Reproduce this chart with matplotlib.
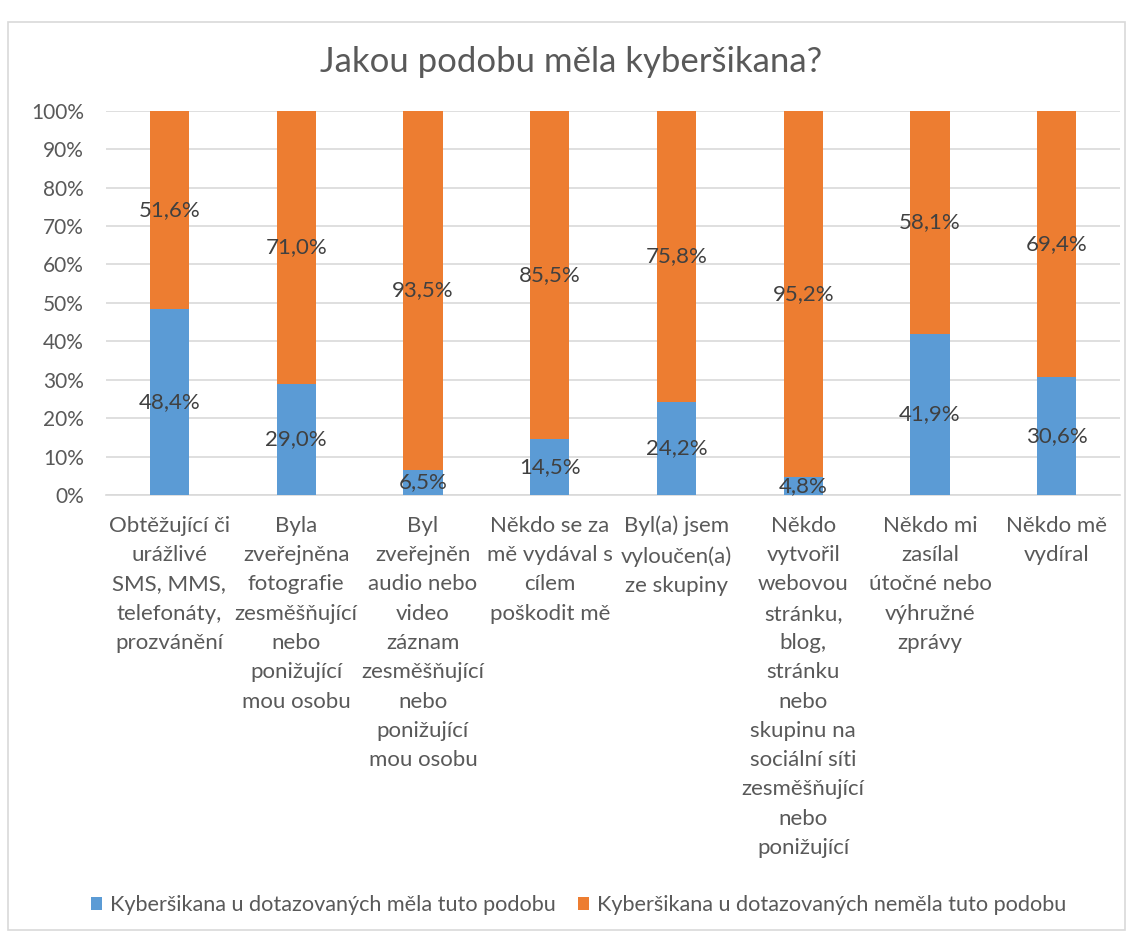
import numpy as np
import matplotlib.pyplot as plt
from matplotlib.patches import Rectangle

plt.rcParams['font.family'] = ['Lato', 'DejaVu Sans']

categories = [
    "Obtěžující či\nurážlivé\nSMS, MMS,\ntelefonáty,\nprozvánění",
    "Byla\nzveřejněna\nfotografie\nzesměšňující\nnebo\nponižující\nmou osobu",
    "Byl\nzveřejněn\naudio nebo\nvideo\nzáznam\nzesměšňující\nnebo\nponižující\nmou osobu",
    "Někdo se za\nmě vydával s\ncílem\npoškodit mě",
    "Byl(a) jsem\nvyloučen(a)\nze skupiny",
    "Někdo\nvytvořil\nwebovou\nstránku,\nblog,\nstránku\nnebo\nskupinu na\nsociální síti\nzesměšňující\nnebo\nponižující",
    "Někdo mi\nzasílal\nútočné nebo\nvýhružné\nzprávy",
    "Někdo mě\nvydíral",
]
mela = [48.4, 29.0, 6.5, 14.5, 24.2, 4.8, 41.9, 30.6]
nemela = [51.6, 71.0, 93.5, 85.5, 75.8, 95.2, 58.1, 69.4]
series_names = ["Kyberšikana u dotazovaných měla tuto podobu",
                "Kyberšikana u dotazovaných neměla tuto podobu"]
title = "Jakou podobu měla kyberšikana?"

blue = "#5B9BD5"
orange = "#ED7D31"
txt = "#595959"
lbl = "#404040"

fig = plt.figure(figsize=(11.28, 9.35), dpi=100)
fig.patches.append(Rectangle((0.007, 0.005), 0.99, 0.971, transform=fig.transFigure,
                             fill=False, edgecolor="#D9D9D9", linewidth=1.2))
ax = fig.add_axes([0.094, 0.4706, 0.899, 0.411])

x = np.arange(len(categories))
w = 0.31
b1 = ax.bar(x, mela, w, color=blue, label=series_names[0], zorder=3)
b2 = ax.bar(x, nemela, w, bottom=mela, color=orange, label=series_names[1], zorder=3)

for i in range(len(x)):
    ax.text(x[i], mela[i] / 2, f"{mela[i]:.1f}%".replace(".", ","), ha="center", va="center",
            fontsize=16, color=lbl, zorder=4)
    ax.text(x[i], mela[i] + nemela[i] / 2, f"{nemela[i]:.1f}%".replace(".", ","), ha="center",
            va="center", fontsize=16, color=lbl, zorder=4)

ax.set_xlim(-0.5, len(x) - 0.5)
ax.set_ylim(0, 100)
ax.set_yticks(np.arange(0, 101, 10))
ax.set_yticklabels([f"{v}%" for v in range(0, 101, 10)])
ax.yaxis.grid(True, color="#D9D9D9", linewidth=1.2, zorder=0)
ax.set_axisbelow(True)
for s in ["top", "right", "left"]:
    ax.spines[s].set_visible(False)
ax.spines["bottom"].set_color("#D9D9D9")
ax.spines["bottom"].set_linewidth(1.2)
ax.tick_params(axis="y", length=0, pad=16, labelsize=15, labelcolor=txt)
ax.tick_params(axis="x", length=0, pad=15)
ax.set_xticks(x)
ax.set_xticklabels(categories, fontsize=16, color=txt, linespacing=1.58, va="top")

fig.text(0.506, 0.934, title, ha="center", va="center", fontsize=25, color=txt)

fig.legend(handles=[b1, b2], labels=series_names, loc="center", bbox_to_anchor=(0.513, 0.032),
           ncol=2, frameon=False, fontsize=15.6, labelcolor=txt, handlelength=0.5,
           handleheight=0.5, handletextpad=0.4, columnspacing=1.0)

fig.savefig("out.png", dpi=100)
